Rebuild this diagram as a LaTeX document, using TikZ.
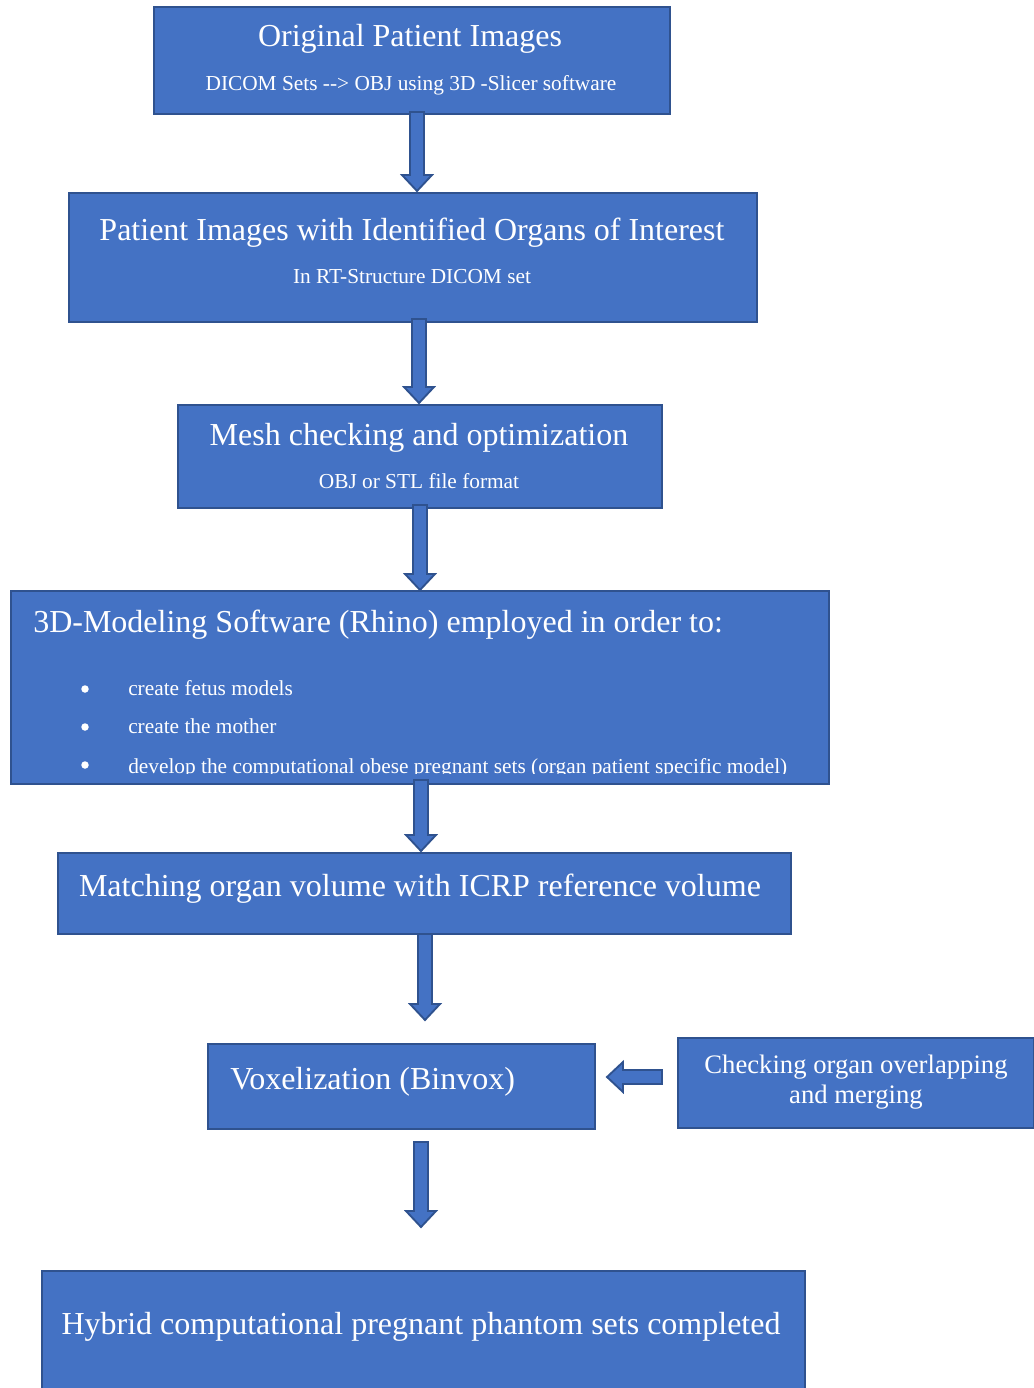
\documentclass[tikz,border=0pt]{standalone}
\usepackage{fontspec}
\setmainfont{Liberation Serif}
\definecolor{fillb}{HTML}{4472C4}
\definecolor{edgeb}{HTML}{2F528F}
\newcommand\blkdown[3]{\draw[arr] (#1-7,#2) -- (#1+7,#2) -- (#1+7,#3-16) -- (#1+15,#3-16) -- (#1,#3) -- (#1-15,#3-16) -- (#1-7,#3-16) -- cycle;}
\begin{document}
\begin{tikzpicture}[x=0.75pt,y=-0.75pt,
 box/.style={draw=edgeb,fill=fillb,line width=1.5pt,anchor=north west,inner sep=0pt},
 big/.style={text=white,font=\fontsize{24}{28}\selectfont,inner sep=0pt,anchor=base},
 small/.style={text=white,font=\fontsize{16}{19}\selectfont,inner sep=0pt,anchor=base},
 mid/.style={text=white,font=\fontsize{20}{23}\selectfont,inner sep=0pt,anchor=base},
 dot/.style={circle,fill=white,inner sep=0pt,minimum size=7.5*0.75pt},
 arr/.style={draw=edgeb,fill=fillb,line width=1.4pt,line join=miter}]
\clip (0,0) rectangle (1034,1388);
\fill[white] (0,0) rectangle (1034,1388);
% boxes
\node[box,minimum width=516*0.75pt,minimum height=107*0.75pt] (b1) at (153,6) {};
\node[box,minimum width=688*0.75pt,minimum height=129*0.75pt] (b2) at (68,192) {};
\node[box,minimum width=484*0.75pt,minimum height=103*0.75pt] (b3) at (177,404) {};
\node[box,draw=none,minimum width=816*0.75pt,minimum height=191*0.75pt] (b4) at (11,591) {};
\node[box,minimum width=733*0.75pt,minimum height=81*0.75pt] (b5) at (57,852) {};
\node[box,minimum width=387*0.75pt,minimum height=85*0.75pt] (b6) at (207,1043) {};
\node[box,minimum width=356*0.75pt,minimum height=90*0.75pt] (b7) at (677,1037) {};
\node[box,minimum width=763*0.75pt,minimum height=140*0.75pt] (b8) at (41,1270) {};
% texts
\node[big] (t1) at (410,47) {Original Patient Images};
\node[small] (s1) at (411,90) {DICOM Sets -{}-{}> OBJ using 3D -Slicer software};
\node[big] (t2) at (412,240) {Patient Images with Identified Organs of Interest};
\node[small] (s2) at (412,283) {In RT-Structure DICOM set};
\node[big] (t3) at (419,445) {Mesh checking and optimization};
\node[small] (s3) at (419,488) {OBJ or STL file format};
\node[big,anchor=base west] (t4) at (33,632) {3D-Modeling Software (Rhino) employed in order to:};
\begin{scope}
\clip (12,592) rectangle (826,773);
\node[dot] (u1) at (85,689) {};
\node[dot] (u2) at (85,727) {};
\node[dot] (u3) at (85,765) {};
\node[small,anchor=base west] (l1) at (128,695) {create fetus models};
\node[small,anchor=base west] (l2) at (128,733) {create the mother};
\node[small,anchor=base west] (l3) at (128,773) {develop the computational obese pregnant sets (organ patient specific model)};
\end{scope}
\draw[draw=edgeb,line width=1.5pt] (b4.north west) rectangle (b4.south east);
\node[big] (t5) at (420,896) {Matching organ volume with ICRP reference volume};
\node[big,anchor=base west] (t6) at (230,1089) {Voxelization (Binvox)};
\node[mid] (t7a) at (856,1073) {Checking organ overlapping};
\node[mid] (t7b) at (856,1103) {and merging};
\node[big] (t8) at (421,1334) {Hybrid computational pregnant phantom sets completed};
% arrows
\blkdown{417}{112}{191}
\blkdown{419}{319}{403}
\blkdown{420}{505}{590}
\blkdown{421}{780}{851}
\blkdown{425}{934}{1020}
\blkdown{421}{1142}{1227}
\draw[arr] (662,1070) -- (662,1084) -- (623,1084) -- (623,1092) -- (607,1077) -- (623,1062) -- (623,1070) -- cycle;
\end{tikzpicture}
\end{document}
